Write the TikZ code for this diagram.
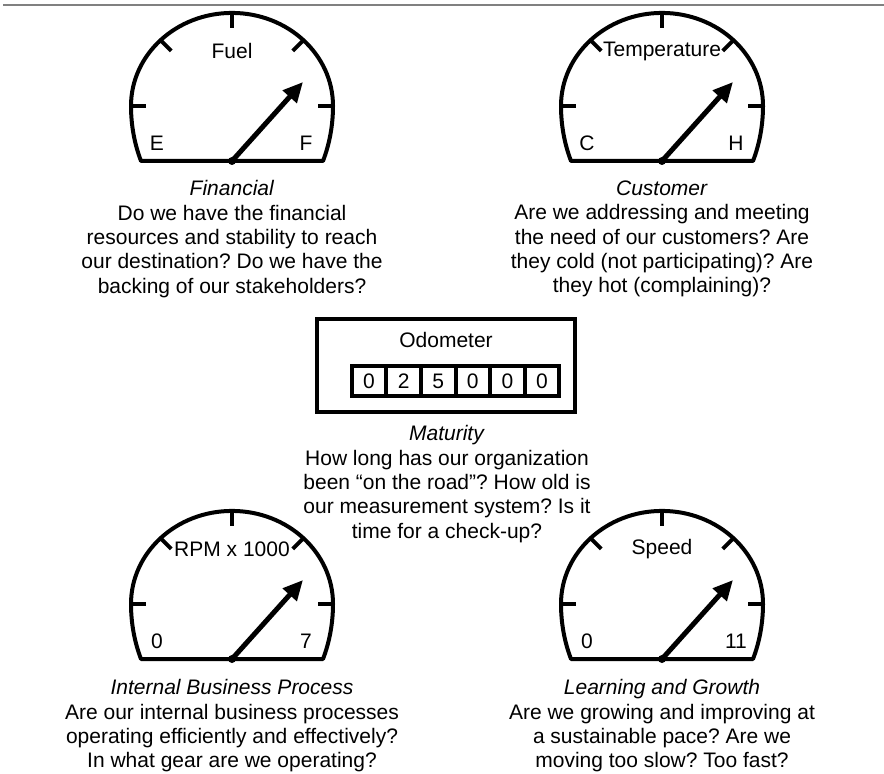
\documentclass[tikz,border=0pt]{standalone}
\usepackage{fontspec}
\setmainfont{Liberation Sans}
\usepackage{tikz}
\usetikzlibrary{positioning,calc,arrows.meta}
\frenchspacing

\begin{document}
\begin{tikzpicture}[
        x=0.5pt, y=0.5pt,
        dial/.style={
            line width=2pt,
            line join=round
        },
        dialtick/.style={
            line width=2pt
        },
        needle/.style={
            -{Triangle[length=10pt,width=9pt]},
            line width=2.5pt
        },
        gaugetext/.style={
            font=\fontsize{10.5}{12.15}\selectfont,
            inner sep=0pt
        },
        blurb/.style={
            gaugetext,
            align=center
        },
        digit/.style={
            draw,
            line width=2pt,
            outer sep=0pt,
            inner sep=0pt,
            minimum width=17.3pt,
            minimum height=14.7pt,
            font=\fontsize{10.5}{12.15}\selectfont
        }
    ]

    \useasboundingbox (0,0) rectangle (884,773);
    \draw[gray, line width=1pt] (3,768) -- (884,768);

    % the four gauges
    \foreach \cx/\cy/\title/\lo/\hi/\n in {
            232/667/Fuel/E/F/fuel,
            662/667/Temperature/C/H/temp,
            232/169/RPM x 1000/0/7/rpm,
            662/169/Speed/0/11/speed}{
        \coordinate (\n) at (\cx,\cy);
        \coordinate (\n-pivot) at (\cx,\cy-55);
        \coordinate (\n-tip) at ($(\n-pivot)+(71,79)$);
        \draw[dial] ($(\n)+(-91,-55)$)
            arc[start angle=205.7, end angle=180, x radius=50.5pt, y radius=63.5pt]
            arc[start angle=180, end angle=0, x radius=50.5pt, y radius=46.5pt]
            arc[start angle=0, end angle=-25.7, x radius=50.5pt, y radius=63.5pt]
            -- cycle;
        \foreach \a in {0,45,...,180}
            \draw[dialtick] ($(\n)+(\a:101 and 93)$) -- ($(\n)+(\a:86 and 78)$);
        \node[gaugetext] (\n-title) at ($(\n)+(0,55)$) {\title};
        \node[gaugetext] (\n-lo) at ($(\n)+(-75,-37)$) {\lo};
        \node[gaugetext] (\n-hi) at ($(\n)+(74,-37)$) {\hi};
        \draw[needle] (\n-pivot) -- (\n-tip);
        \fill (\n-pivot) circle (2pt);
    }

    \node[blurb] (fin) at (232,534) {\textit{Financial}\\Do we have the financial\\resources and stability to reach\\our destination? Do we have the\\backing of our stakeholders?};
    \node[blurb] (cust) at (662,534) {\textit{Customer}\\Are we addressing and meeting\\the need of our customers? Are\\they cold (not participating)? Are\\they hot (complaining)?};

    % odometer in the middle
    \node[draw, line width=2pt, minimum width=129pt, minimum height=46.5pt] (odo) at (446,407.5) {};
    \node[gaugetext] (odo-title) at (446,433) {Odometer};
    \node[digit] (d1) at (369,392) {0};
    \node[digit, right=0pt of d1] (d2) {2};
    \node[digit, right=0pt of d2] (d3) {5};
    \node[digit, right=0pt of d3] (d4) {0};
    \node[digit, right=0pt of d4] (d5) {0};
    \node[digit, right=0pt of d5] (d6) {0};

    \node[blurb] (mat) at (447,289) {\textit{Maturity}\\How long has our organization\\been “on the road”? How old is\\our measurement system? Is it\\time for a check-up?};

    \node[blurb] (ibp) at (232,47) {\textit{Internal Business Process}\\Are our internal business processes\\operating efficiently and effectively?\\In what gear are we operating?};
    \node[blurb] (lg) at (662,47) {\textit{Learning and Growth}\\Are we growing and improving at\\a sustainable pace? Are we\\moving too slow? Too fast?};

\end{tikzpicture}
\end{document}
